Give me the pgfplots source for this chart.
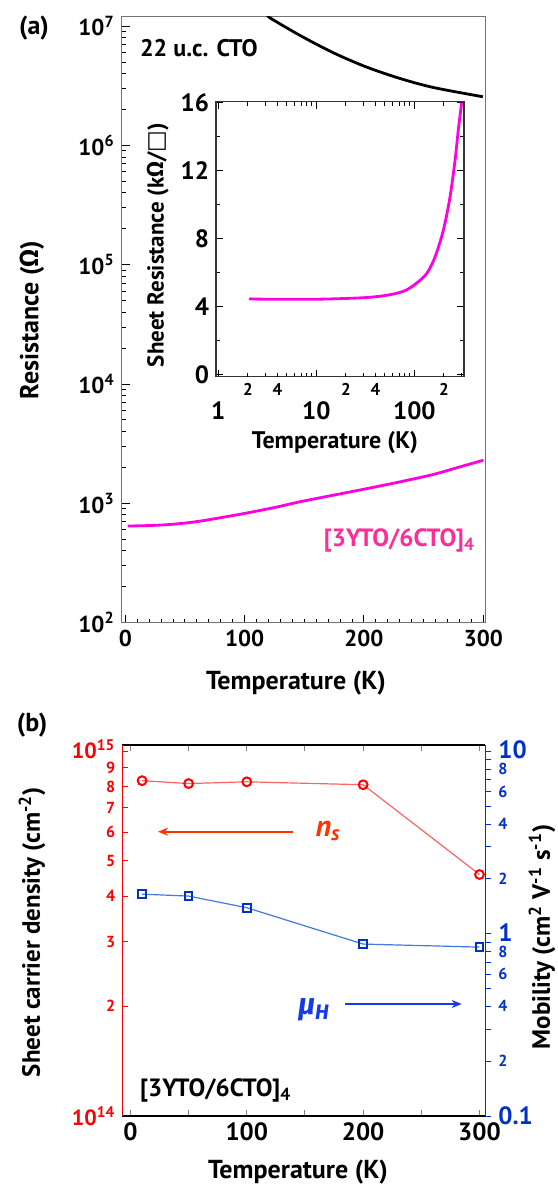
\documentclass[border=0pt]{standalone}
\usepackage{fontspec}
\setmainfont{PT Sans}
\newfontfamily\grk{Fira Sans}
\newfontfamily\sym{DejaVu Sans}
\usepackage{pgfplots}
\pgfplotsset{compat=1.18}
\usetikzlibrary{arrows.meta}
\newcommand\fs[1]{\fontsize{#1}{#1}\selectfont}
\definecolor{pinkline}{RGB}{255,0,225}
\definecolor{pinktext}{RGB}{255,45,150}
\definecolor{nsred}{RGB}{255,0,0}
\definecolor{nsline}{RGB}{255,100,100}
\definecolor{nslabel}{RGB}{255,50,0}
\definecolor{mublue}{RGB}{0,50,200}
\definecolor{muline}{RGB}{70,120,220}
\definecolor{mulabel}{RGB}{20,60,230}

\begin{document}
\begin{tikzpicture}[font=\bfseries]
\path[use as bounding box] (0,0) rectangle (278.5pt,-597pt);

% ---------- (a) main panel ----------
\begin{axis}[
  at={(60.85pt,-8.35pt)}, anchor=north west,
  scale only axis, width=182pt, height=303pt,
  xmin=-3, xmax=302,
  ymode=log, ymin=100, ymax=1.2e7,
  xtick={0,100,200,300}, minor x tick num=9,
  ytick={1e2,1e3,1e4,1e5,1e6,1e7},
  yticklabels={10\textsuperscript{2},10\textsuperscript{3},10\textsuperscript{4},10\textsuperscript{5},10\textsuperscript{6},10\textsuperscript{7}},
  minor ytick={2e2,3e2,4e2,5e2,6e2,7e2,8e2,9e2,2e3,3e3,4e3,5e3,6e3,7e3,8e3,9e3,
               2e4,3e4,4e4,5e4,6e4,7e4,8e4,9e4,2e5,3e5,4e5,5e5,6e5,7e5,8e5,9e5,
               2e6,3e6,4e6,5e6,6e6,7e6,8e6,9e6},
  xtick pos=bottom, ytick pos=left, tick align=inside,
  axis line style={black!55, line width=0.7pt},
  major tick length=4pt, minor tick length=2pt,
  tick style={black, line width=0.5pt},
  tick label style={font=\bfseries\fs{11.5}},
  /pgf/number format/assume math mode=true,
]
% 22 u.c. CTO
\addplot[black, line width=1.4pt, smooth] coordinates {
  (120.5,1.2e7) (122.3,1.155e7) (146.6,8.34e6) (174.5,5.97e6) (202.4,4.53e6)
  (230.3,3.64e6) (258.2,3.06e6) (299.6,2.56e6)
};
% [3YTO/6CTO]_4
\addplot[pinkline, line width=1.4pt, smooth] coordinates {
  (2,646) (20,652) (35,663) (50,684) (63,711) (80,759) (100,824) (125,923)
  (147,1035) (175,1175) (200,1315) (230,1514) (258,1747) (280,2018) (300,2300)
};
\end{axis}

% ---------- inset ----------
\begin{axis}[
  at={(108pt,-50.85pt)}, anchor=north west,
  scale only axis, width=124pt, height=137.5pt,
  xmode=log, xmin=0.947, xmax=321,
  ymin=-0.1, ymax=16.05,
  xtick={1,10,100}, xticklabels={1,10,100},
  minor xtick={2,3,4,5,6,7,8,9,20,30,40,50,60,70,80,90,200,300},
  extra x ticks={2,4,20,40,200}, extra x tick labels={2,4,2,4,2},
  extra x tick style={tick label style={font=\bfseries\fs{8.5}, yshift=9pt}, major tick length=2pt},
  ytick={0,4,8,12,16}, minor ytick={2,6,10,14},
  xtick pos=both, ytick pos=both, tick align=inside,
  axis line style={black!80, line width=0.6pt},
  major tick length=3.5pt, minor tick length=2pt,
  tick style={black, line width=0.5pt},
  xticklabel style={yshift=-9pt},
  tick label style={font=\bfseries\fs{12.5}},
  /pgf/number format/assume math mode=true,
]
\addplot[pinkline, line width=1.4pt, smooth, tension=0.5] coordinates {
  (2.07,4.50) (2.3,4.46) (4.6,4.45) (10,4.45) (18.9,4.49) (32.7,4.55) (48.3,4.65)
  (66,4.8) (83.6,5.0) (105.7,5.4) (133.7,5.96) (162.6,6.93) (197.6,8.5) (231,10.44)
  (260,12.6) (281,14.4) (304,16.0)
};
\end{axis}

% ---------- (b) left axis: sheet carrier density ----------
\begin{axis}[
  at={(61.15pt,-372.5pt)}, anchor=north west,
  scale only axis, width=181.5pt, height=185.5pt,
  xmin=-7, xmax=305,
  ymode=log, ymin=1e14, ymax=1.04e15,
  axis x line*=box, axis y line*=left,
  xtick={0,100,200,300}, minor xtick={50,150,250}, xtick pos=both,
  ytick={1e14,2e14,3e14,4e14,5e14,6e14,7e14,8e14,9e14,1e15},
  yticklabels={{\fs{11}10\textsuperscript{14}},{\fs{8}2},{\fs{8}3},{\fs{8}4},{\fs{8}5},{\fs{8}6},{\fs{8}7},{\fs{8}8},{\fs{8}9},{\fs{11}\raisebox{2pt}{10\textsuperscript{15}}}},
  tick align=inside,
  major tick length=3pt, minor tick length=3pt,
  tick style={line width=0.5pt},
  x axis line style={black, line width=0.6pt},
  y axis line style={nsred, line width=0.6pt},
  every y tick/.style={nsred},
  yticklabel style={text=nsred},
  xticklabel style={font=\bfseries\fs{12.5}},
  /pgf/number format/assume math mode=true,
]
\addplot[nsline, line width=0.6pt, mark=o, mark size=2.2pt,
  mark options={nsred, line width=1pt}] coordinates {
  (10,8.30e14) (50,8.15e14) (100,8.24e14) (200,8.09e14) (300,4.59e14)
};
\end{axis}

% ---------- (b) right axis: mobility ----------
\begin{axis}[
  at={(61.15pt,-372.5pt)}, anchor=north west,
  scale only axis, width=181.5pt, height=185.5pt,
  xmin=-7, xmax=305,
  ymode=log, ymin=0.1, ymax=10.86,
  axis x line=none, axis y line*=right,
  ytick={0.1,0.2,0.4,0.6,0.8,1,2,4,6,8,10},
  yticklabels={{\fs{12.5}0.1},{\fs{8}2},{\fs{8}4},{\fs{8}6},{\fs{8}\raisebox{-1.5pt}{8}},{\fs{12.5}\raisebox{1.5pt}{1}},{\fs{8}2},{\fs{8}4},{\fs{8}6},{\fs{8}\raisebox{-1.5pt}{8}},{\fs{12.5}\raisebox{1.5pt}{10}}},
  minor ytick={0.3,0.5,0.7,0.9,3,5,7,9},
  tick align=outside,
  major tick length=3pt, minor tick length=3pt,
  y axis line style={mublue, line width=0.6pt},
  every y tick/.style={mublue, line width=0.5pt},
  yticklabel style={text=mublue},
  /pgf/number format/assume math mode=true,
]
\addplot[muline, line width=0.6pt, mark=square, mark size=1.9pt,
  mark options={mublue, line width=1pt}] coordinates {
  (10,1.65) (50,1.61) (100,1.39) (200,0.878) (300,0.845)
};
\end{axis}

% ---------- text ----------
\node[font=\bfseries\fs{13}] at (17pt,-14pt) {(a)};
\node[font=\bfseries\fs{13}, rotate=90] at (16pt,-160pt) {Resistance ({\grk\bfseries Ω})};
\node[font=\bfseries\fs{13}] at (148pt,-341.5pt) {Temperature (K)};
\node[font=\bfseries\fs{12}, anchor=west] at (66.5pt,-24pt) {22 u.c. CTO};
\node[font=\bfseries\fs{12.5}, text=pinktext, anchor=east] at (241pt,-270pt) {[3YTO/6CTO]\textsubscript{4}};
\node[font=\bfseries\fs{11.5}, rotate=90] at (79pt,-122.5pt) {Sheet Resistance (k{\grk\bfseries Ω}/{\sym\mdseries □})};
\node[font=\bfseries\fs{12}] at (167.5pt,-221.5pt) {Temperature (K)};

\node[font=\bfseries\fs{13}] at (16pt,-362.5pt) {(b)};
\node[font=\bfseries\fs{12.5}, rotate=90] at (16pt,-466pt) {Sheet carrier density (cm\textsuperscript{-2})};
\node[font=\bfseries\fs{12.5}, rotate=90] at (271pt,-468.5pt) {Mobility (cm\textsuperscript{2} V\textsuperscript{-1} s\textsuperscript{-1})};
\node[font=\bfseries\fs{13}] at (149pt,-586pt) {Temperature (K)};
\node[font=\bfseries\itshape\fs{15}, text=nslabel] at (164pt,-415.5pt) {n\textsubscript{s}};
\draw[nslabel, line width=0.9pt, -{Stealth[length=5pt,width=4pt]}] (146.5pt,-415.85pt) -- (79pt,-415.85pt);
\node[font=\grk\bfseries\itshape\fs{15}, text=mulabel] at (157pt,-505pt) {μ\textsubscript{H}};
\draw[mulabel, line width=0.9pt, -{Stealth[length=5pt,width=4pt]}] (172.5pt,-502pt) -- (230.85pt,-502pt);
\node[font=\bfseries\fs{12.5}, anchor=west] at (66.5pt,-545pt) {[3YTO/6CTO]\textsubscript{4}};
\end{tikzpicture}
\end{document}
